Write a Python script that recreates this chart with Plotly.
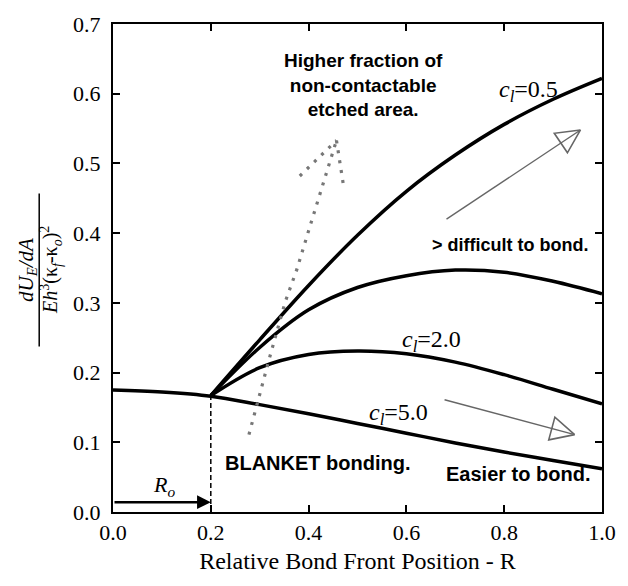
import numpy as np
import plotly.graph_objects as go

# ---------------- data ----------------
R_branch = [0.2, 0.3, 0.4, 0.5, 0.6, 0.7, 0.8, 0.9, 1.0]
c05 = [0.167, 0.247, 0.325, 0.397, 0.460, 0.512, 0.556, 0.592, 0.622]
c10 = [0.167, 0.236, 0.290, 0.322, 0.339, 0.347, 0.344, 0.331, 0.313]
c20 = [0.167, 0.207, 0.226, 0.231, 0.227, 0.215, 0.197, 0.176, 0.155]
R_full = [0.0, 0.1, 0.2, 0.3, 0.4, 0.5, 0.6, 0.7, 0.8, 0.9, 1.0]
c50 = [0.175, 0.172, 0.166, 0.154, 0.141, 0.127, 0.113, 0.099, 0.086, 0.074, 0.062]

# dotted "higher fraction" arrow
dot_x = [0.278, 0.298, 0.320, 0.352, 0.376, 0.402, 0.423, 0.443, 0.457]
dot_y = [0.111, 0.165, 0.221, 0.301, 0.348, 0.408, 0.456, 0.503, 0.533]
dot_left_x = [0.382, 0.457]
dot_left_y = [0.482, 0.533]
dot_right_x = [0.457, 0.471]
dot_right_y = [0.533, 0.470]

# thin open-head arrows (start, tip)
arrow_up = [(0.682, 0.420), (0.956, 0.548)]
arrow_dn = [(0.678, 0.161), (0.944, 0.111)]

R0 = 0.2
R0_junction = 0.167
R0_arrow_y = 0.014

x_ticks = [0.0, 0.2, 0.4, 0.6, 0.8, 1.0]
x_ticklabels = ["0.0", "0.2", "0.4", "0.6", "0.8", "1.0"]
y_ticks = [0.0, 0.1, 0.2, 0.3, 0.4, 0.5, 0.6, 0.7]
y_ticklabels = ["0.0", "0.1", "0.2", "0.3", "0.4", "0.5", "0.6", "0.7"]

# ---------------- layout geometry ----------------
W, H = 628, 586
ML, MR, MT, MB = 113, 18, 14, 74
XR = [0.0, 1.0]
YR = [0.0, 0.7]
kx = (W - ML - MR) / (XR[1] - XR[0])   # px per unit x
ky = (H - MT - MB) / (YR[1] - YR[0])   # px per unit y

SERIF = "Liberation Serif"
SANS = "Liberation Sans"

fig = go.Figure()

line_style = dict(color="black", width=3.5)
for xs, ys in [(R_branch, c05), (R_branch, c10), (R_branch, c20), (R_full, c50)]:
    fig.add_trace(go.Scatter(x=xs, y=ys, mode="lines", line=dict(shape="spline", smoothing=1.0, **line_style),
                             showlegend=False, hoverinfo="skip"))

dot_style = dict(color="#777777", width=3.2, dash="3px,7px")
for xs, ys in [(dot_x, dot_y), (dot_left_x, dot_left_y), (dot_right_x, dot_right_y)]:
    fig.add_trace(go.Scatter(x=xs, y=ys, mode="lines", line=dot_style,
                             showlegend=False, hoverinfo="skip"))


def open_arrow(start, tip, head_len=24, half_w=12):
    (x0, y0), (x1, y1) = start, tip
    dxp, dyp = (x1 - x0) * kx, (y1 - y0) * ky
    n = np.hypot(dxp, dyp)
    ux, uy = dxp / n, dyp / n
    bx, by = -ux * head_len, -uy * head_len
    px_, py_ = -uy * half_w, ux * half_w
    p1 = (x1 + (bx + px_) / kx, y1 + (by + py_) / ky)
    p2 = (x1 + (bx - px_) / kx, y1 + (by - py_) / ky)
    fig.add_trace(go.Scatter(x=[x0, x1], y=[y0, y1], mode="lines",
                             line=dict(color="#666666", width=1.4), showlegend=False, hoverinfo="skip"))
    fig.add_trace(go.Scatter(x=[x1, p1[0], p2[0], x1], y=[y1, p1[1], p2[1], y1], mode="lines",
                             line=dict(color="#666666", width=1.6), showlegend=False, hoverinfo="skip"))


open_arrow(*arrow_up)
open_arrow(*arrow_dn)

# dashed vertical line at R0
fig.add_trace(go.Scatter(x=[R0, R0], y=[0, R0_junction], mode="lines",
                         line=dict(color="black", width=1.5, dash="5px,3px"), showlegend=False, hoverinfo="skip"))

annotations = []
# R0 arrow
annotations.append(dict(x=R0, y=R0_arrow_y, ax=0.0, ay=R0_arrow_y, xref="x", yref="y", axref="x", ayref="y",
                        showarrow=True, arrowhead=2, arrowsize=1.1, arrowwidth=2.5, arrowcolor="black", text=""))


def txt(x, y, s, font, size, **kw):
    annotations.append(dict(x=x, y=y, xref="x", yref="y", text=s, showarrow=False,
                            font=dict(family=font, size=size, color="black"), **kw))


txt(0.512, 0.613, "<b>Higher fraction of<br>non-contactable<br>etched area.</b>", SANS, 19, align="center")
txt(0.812, 0.383, "<b>&gt; difficult to bond.</b>", SANS, 18)
txt(0.420, 0.070, "<b>BLANKET bonding.</b>", SANS, 20)
txt(0.828, 0.055, "<b>Easier to bond.</b>", SANS, 20)
txt(0.850, 0.604, "<i>c<sub>l</sub></i>=0.5", SERIF, 24)
txt(0.652, 0.245, "<i>c<sub>l</sub></i>=2.0", SERIF, 24)
txt(0.584, 0.141, "<i>c<sub>l</sub></i>=5.0", SERIF, 24)
txt(0.105, 0.037, "<i>R<sub>o</sub></i>", SERIF, 22)

# y-axis fraction title
ymid = 0.496
annotations.append(dict(x=0, y=ymid, xref="paper", yref="paper", xshift=-86, xanchor="center", yanchor="middle",
                        textangle=-90, showarrow=False,
                        text="<i>dU<sub>E</sub>/dA</i>", font=dict(family=SERIF, size=21, color="black")))
annotations.append(dict(x=0, y=ymid, xref="paper", yref="paper", xshift=-62, xanchor="center", yanchor="middle",
                        textangle=-90, showarrow=False,
                        text="<i>Eh</i><sup>3</sup>(κ<sub><i>f</i></sub>-κ<sub><i>o</i></sub>)<sup>2</sup>",
                        font=dict(family=SERIF, size=20, color="black")))

shapes = [dict(type="line", xref="paper", yref="paper", x0=-75 / (W - ML - MR), x1=-75 / (W - ML - MR),
               y0=ymid - 78 / (H - MT - MB), y1=ymid + 78 / (H - MT - MB), line=dict(color="black", width=1.5))]

axis_common = dict(showline=True, linecolor="black", linewidth=2, mirror="allticks", ticks="inside",
                   ticklen=7, tickwidth=2, tickcolor="black", showgrid=False, zeroline=False,
                   tickfont=dict(family=SERIF, size=22, color="black"))

fig.update_layout(
    width=W, height=H, margin=dict(l=ML, r=MR, t=MT, b=MB),
    paper_bgcolor="white", plot_bgcolor="white",
    xaxis=dict(range=XR, tickvals=x_ticks, ticktext=x_ticklabels,
               title=dict(text="Relative Bond Front Position - R", font=dict(family=SERIF, size=24, color="black"),
                          standoff=8), **axis_common),
    yaxis=dict(range=YR, tickvals=y_ticks, ticktext=y_ticklabels, ticklabelstandoff=6, **axis_common),
    annotations=annotations, shapes=shapes, showlegend=False,
)

fig.write_html("out.html")
